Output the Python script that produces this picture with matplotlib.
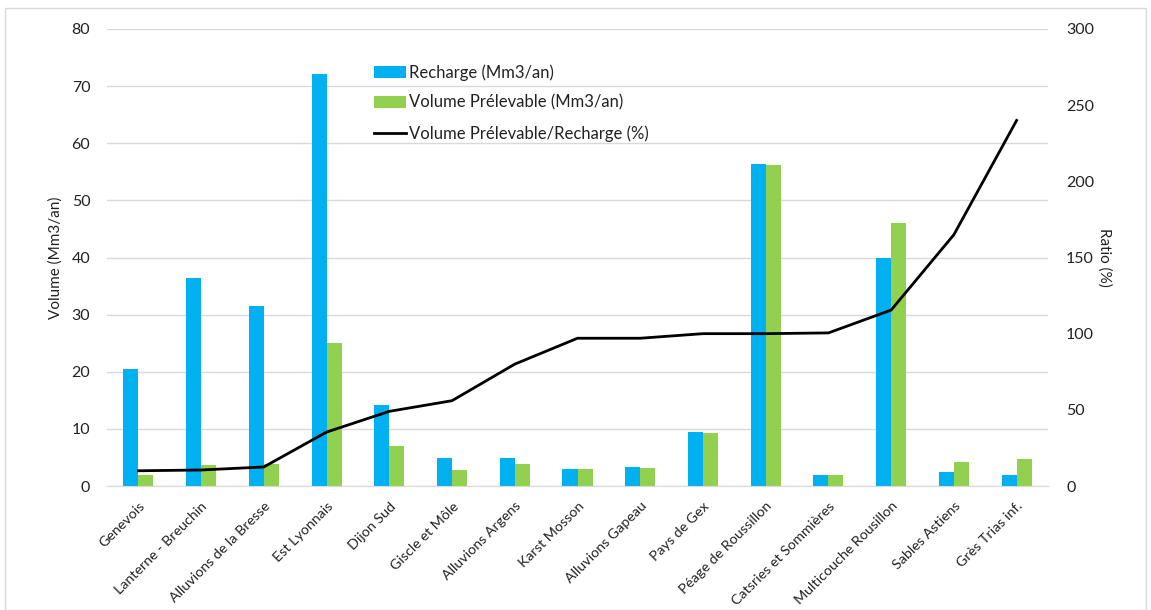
import matplotlib
matplotlib.use("Agg")
import matplotlib.pyplot as plt
import numpy as np
from matplotlib.patches import Rectangle

categories = ["Genevois", "Lanterne - Breuchin", "Alluvions de la Bresse", "Est Lyonnais",
              "Dijon Sud", "Giscle et Môle", "Alluvions Argens", "Karst Mosson",
              "Alluvions Gapeau", "Pays de Gex", "Péage de Roussillon",
              "Catsries et Sommières", "Multicouche Rousillon", "Sables Astiens",
              "Grès Trias inf."]
recharge = [20.5, 36.4, 31.5, 72.2, 14.2, 4.9, 4.9, 3.0, 3.3, 9.4, 56.4, 1.9, 40.0, 2.5, 2.0]
prelevable = [1.9, 3.7, 3.9, 25.0, 7.0, 2.8, 3.9, 3.0, 3.2, 9.3, 56.2, 1.9, 46.1, 4.2, 4.8]
ratio = [10, 10.5, 12.5, 35.4, 49, 56, 80, 97, 97, 100, 100, 100.5, 115.5, 165, 240]

plt.rcParams['font.family'] = ['Lato', 'DejaVu Sans']
BLUE = "#00B0F0"
GREEN = "#92D050"
TXT = "#222222"

fig = plt.figure(figsize=(11.51, 6.10), dpi=100)
fig.patches.append(Rectangle((0.004, 0.0), 0.992, 0.987, transform=fig.transFigure,
                             fill=False, edgecolor="#d9d9d9", linewidth=1.0))
ax = fig.add_axes([107/1151, 1 - 486/610, (1048-107)/1151, (486-29)/610])
x = np.arange(len(categories))
w = 0.24
b1 = ax.bar(x - w/2, recharge, w, color=BLUE, label="Recharge (Mm3/an)", zorder=2)
b2 = ax.bar(x + w/2, prelevable, w, color=GREEN, label="Volume Prélevable (Mm3/an)", zorder=2)
ax.set_xlim(-0.5, len(categories) - 0.5)
ax.set_ylim(0, 80)
ax.set_yticks(np.arange(0, 81, 10))
ax.grid(axis='y', color="#d9d9d9", linewidth=1.0, zorder=0)
ax.set_axisbelow(True)
for s in ["top", "right", "left"]:
    ax.spines[s].set_visible(False)
ax.spines["bottom"].set_color("#d9d9d9")
ax.tick_params(axis='both', length=0, colors=TXT, labelsize=11.5)
ax.tick_params(axis='y', labelcolor=TXT, pad=12)
ax.set_xticks(x)
ax.set_xticklabels(categories, rotation=45, ha='right', rotation_mode='anchor',
                   fontsize=10.3, color=TXT)
ax.tick_params(axis='x', pad=10)
ax.set_ylabel("Volume (Mm3/an)", fontsize=11, color=TXT)
ax.yaxis.set_label_coords(-0.047, 0.5)

ax2 = ax.twinx()
l1, = ax2.plot(x, ratio, color="black", linewidth=2.0, label="Volume Prélevable/Recharge (%)", zorder=3)
ax2.set_ylim(0, 300)
ax2.set_yticks(np.arange(0, 301, 50))
for s in ["top", "right", "left", "bottom"]:
    ax2.spines[s].set_visible(False)
ax2.tick_params(axis='y', length=0, labelcolor=TXT, labelsize=11.5, pad=13)
ax2.set_ylabel("Ratio (%)", fontsize=11, color=TXT, rotation=270)
ax2.yaxis.set_label_coords(1.068, 0.5)

leg = fig.legend(handles=[b1, b2, l1], loc='upper left', bbox_to_anchor=(359/1151, 1 - 49/610),
                 frameon=False, fontsize=12, handlelength=1.9, handletextpad=0.2,
                 labelspacing=0.85)
for t in leg.get_texts():
    t.set_color(TXT)

fig.savefig("out.png", dpi=100)
